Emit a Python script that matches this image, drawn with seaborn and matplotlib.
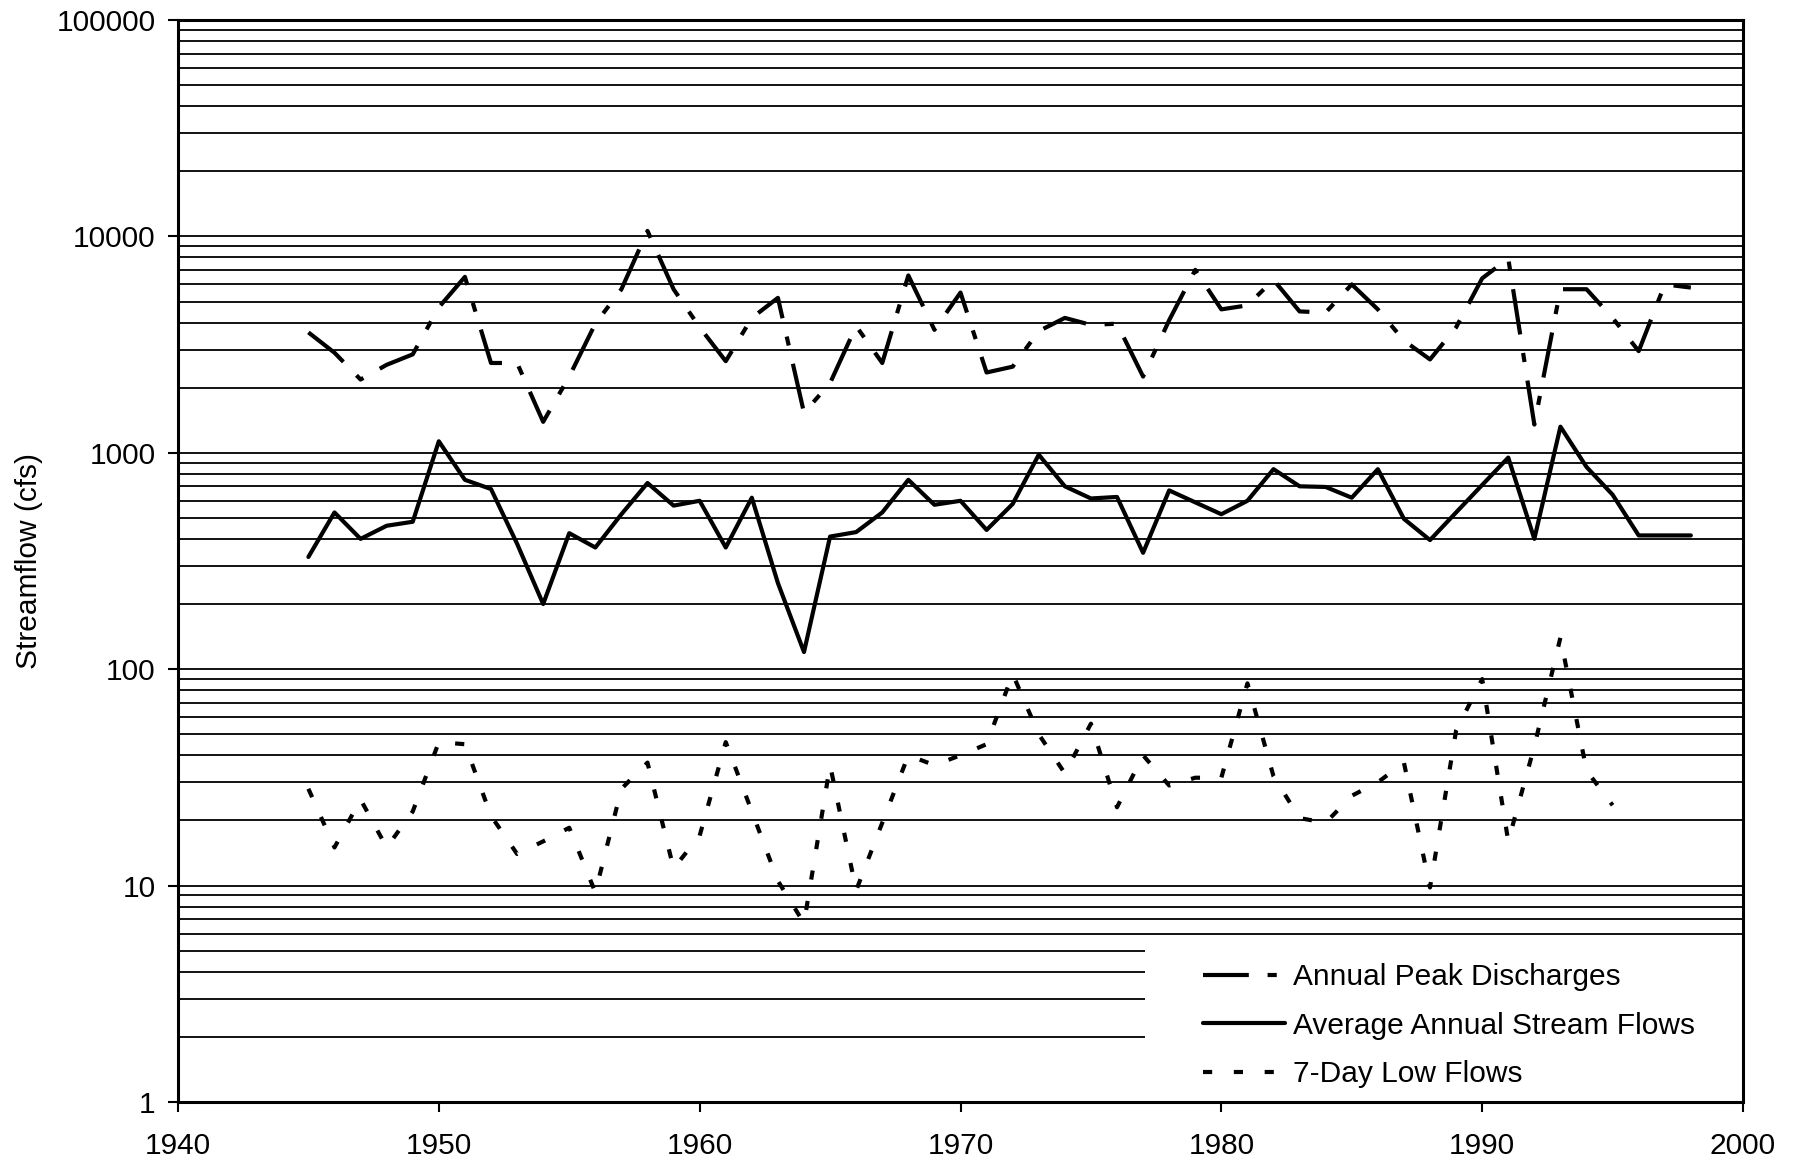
import numpy as np
import pandas as pd
import matplotlib
matplotlib.use("Agg")
import matplotlib.pyplot as plt
import seaborn as sns
from matplotlib.ticker import FixedLocator, LogLocator, FuncFormatter, NullFormatter
from matplotlib.patches import Rectangle

# ---- data ----
years = list(range(1945, 1999))
peak_discharge = [3600, 2900, 2180, 2550, 2850, 4700, 6500, 2600, 2600, 1390,
                  2250, 3950, 5700, 10600, 5700, 3800, 2650, 4200, 5200, 1530,
                  2100, 3850, 2600, 6600, 3700, 5500, 2350, 2500, 3650, 4200,
                  3900, 3950, 2250, 4100, 7000, 4600, 4800, 6300, 4500, 4450,
                  6000, 4600, 3300, 2700, 3800, 6400, 7900, 1350, 5700, 5700,
                  4200, 2950, 6000, 5800]
avg_flow = [330, 530, 400, 460, 480, 1130, 750, 680, 380, 200,
            425, 365, 520, 725, 570, 600, 365, 620, 250, 120,
            410, 430, 530, 750, 575, 600, 440, 580, 980, 700,
            615, 625, 345, 670, 590, 520, 600, 840, 700, 695,
            620, 840, 495, 395, 530, 710, 950, 400, 1320, 860,
            640, 415, 415, 415]
low_years = list(range(1945, 1996))
low_flow = [28, 15, 25, 15, 22, 46, 45, 21, 14, 16,
            18.5, 9.3, 28, 37, 12, 17, 46, 22, 10.5, 6.7,
            36, 9.5, 19.5, 40, 36, 40, 45, 95, 50, 33,
            56, 23, 40, 29, 31.5, 31.5, 86, 32, 20.5, 19.5,
            26, 30, 37, 9.8, 52, 90, 16, 44, 140, 34,
            23.5]

labels = ["Annual Peak Discharges", "Average Annual Stream Flows", "7-Day Low Flows"]
x_ticks = [1940, 1950, 1960, 1970, 1980, 1990, 2000]
y_ticks = [1, 10, 100, 1000, 10000, 100000]

df_peak = pd.DataFrame({"year": years, "flow": peak_discharge})
df_avg = pd.DataFrame({"year": years, "flow": avg_flow})
df_low = pd.DataFrame({"year": low_years, "flow": low_flow})

# ---- style ----
sns.set_theme(style="white")
plt.rcParams["font.family"] = ["Liberation Sans", "DejaVu Sans"]
plt.rcParams["axes.edgecolor"] = "black"

FS = 21.5

fig = plt.figure(figsize=(17.96, 11.63), dpi=100)
ax = fig.add_axes([0.0991, 0.0525, 0.8714, 0.9303])

lw = 3.0
sns.lineplot(data=df_peak, x="year", y="flow", ax=ax, color="black", lw=lw,
             linestyle=(0, (11, 4.5, 2.2, 4.5)), dash_capstyle="butt",
             label=labels[0])
sns.lineplot(data=df_avg, x="year", y="flow", ax=ax, color="black", lw=lw,
             linestyle="-", label=labels[1])
sns.lineplot(data=df_low, x="year", y="flow", ax=ax, color="black", lw=lw,
             linestyle=(0, (2.2, 5.2)), dash_capstyle="butt",
             label=labels[2])

ax.set_yscale("log")
ax.set_xlim(1940, 2000)
ax.set_ylim(1, 100000)

ax.xaxis.set_major_locator(FixedLocator(x_ticks))
ax.yaxis.set_major_locator(FixedLocator(y_ticks))
ax.yaxis.set_major_formatter(FuncFormatter(lambda v, p: f"{int(round(v))}"))
ax.yaxis.set_minor_locator(LogLocator(base=10, subs=range(2, 10)))
ax.yaxis.set_minor_formatter(NullFormatter())

ax.set_axisbelow(True)
ax.grid(which="both", axis="y", color="black", linewidth=1.3)
ax.grid(which="both", axis="x", visible=False)

ax.tick_params(axis="both", which="major", direction="out", length=7, width=1.5,
               color="black", labelsize=FS, labelcolor="black")
ax.tick_params(axis="x", which="major", pad=15, bottom=True)
ax.tick_params(axis="y", which="major", pad=9, left=True)
ax.tick_params(axis="y", which="minor", length=0)

for s in ax.spines.values():
    s.set_visible(True)
    s.set_color("black")
    s.set_linewidth(2.2)

ax.set_xlabel("")
ax.set_ylabel("Streamflow (cfs)", fontsize=FS, color="black", labelpad=10)

# white legend area covering the lower-right gridlines
ax.add_patch(Rectangle((0.618, 0.0), 0.382, 0.15, transform=ax.transAxes,
                       facecolor="white", edgecolor="none", zorder=1))

leg = ax.legend(loc="upper left", bbox_to_anchor=(0.655, 0.128), frameon=False,
                borderpad=0, borderaxespad=0, handlelength=2.75,
                handletextpad=0.25, labelspacing=0.68, fontsize=FS)
for t in leg.get_texts():
    t.set_color("black")

fig.savefig("out.png", dpi=100)
